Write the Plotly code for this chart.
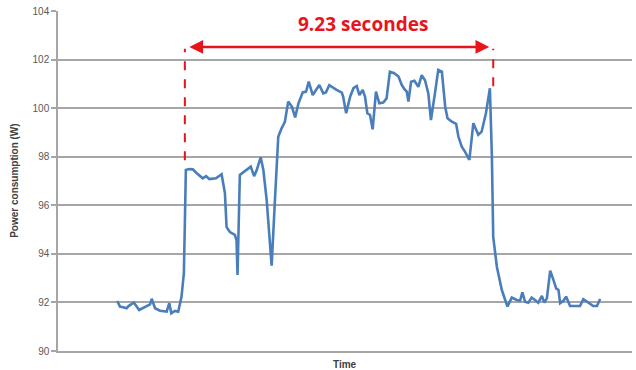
import plotly.graph_objects as go

# Time (s) and power consumption (W)
time_s = [0.01, 0.09, 0.19, 0.29, 0.35, 0.51, 0.67, 0.88, 1.00, 1.05, 1.15, 1.30, 1.50, 1.58, 1.64,
          1.75, 1.85, 1.95, 2.02, 2.05, 2.08, 2.18, 2.29, 2.41, 2.59, 2.69, 2.79, 2.99, 3.16, 3.26,
          3.31, 3.41, 3.56, 3.61, 3.64, 3.71, 3.90, 4.04, 4.14, 4.22, 4.34, 4.42, 4.52, 4.60, 4.67,
          4.77, 4.87, 4.97, 5.07, 5.17, 5.28, 5.38, 5.48, 5.61, 5.71, 5.79, 5.91, 6.01, 6.11, 6.23,
          6.31, 6.41, 6.53, 6.63, 6.79, 6.83, 6.92, 7.04, 7.14, 7.24, 7.32, 7.42, 7.49, 7.56, 7.64,
          7.72, 7.82, 7.92, 8.04, 8.14, 8.24, 8.37, 8.50, 8.60, 8.68, 8.75, 8.80, 8.88, 8.98, 9.10,
          9.20, 9.30, 9.40, 9.48, 9.60, 9.70, 9.81, 9.91, 9.98, 10.11, 10.24, 10.31, 10.41, 10.51,
          10.64, 10.76, 10.91, 11.01, 11.14, 11.26, 11.32, 11.36, 11.47, 11.62, 11.79, 11.92, 12.07,
          12.17, 12.24, 12.32, 12.42, 12.52, 12.62, 12.72, 12.83, 12.90, 12.98, 13.08, 13.18, 13.26,
          13.33, 13.38, 13.48, 13.56, 13.68, 13.88, 13.98, 14.08, 14.23, 14.38, 14.49, 14.59]

power_w = [92.06, 91.83, 91.80, 91.76, 91.85, 92.00, 91.69, 91.83, 91.92, 92.15, 91.76, 91.66, 91.62,
           91.97, 91.55, 91.65, 91.62, 92.24, 93.20, 95.26, 97.45, 97.49, 97.48, 97.32, 97.11, 97.20,
           97.08, 97.11, 97.28, 96.49, 95.10, 94.90, 94.78, 94.55, 93.13, 97.25, 97.45, 97.59, 97.20,
           97.45, 97.98, 97.45, 96.22, 94.57, 93.51, 96.22, 98.82, 99.17, 99.44, 100.27, 100.06, 99.62,
           100.20, 100.65, 100.68, 101.09, 100.54, 100.75, 100.95, 100.61, 100.65, 100.95, 100.84,
           100.75, 100.64, 100.47, 99.79, 100.47, 100.82, 100.91, 100.54, 100.75, 100.47, 99.79, 99.72,
           99.13, 100.68, 100.20, 100.23, 100.40, 101.50, 101.44, 101.30, 100.95, 100.78, 100.68,
           100.27, 101.09, 101.13, 100.88, 101.36, 101.15, 100.61, 99.51, 100.61, 101.57, 101.50,
           100.06, 99.58, 99.44, 99.35, 98.82, 98.41, 98.20, 97.87, 99.38, 98.90, 99.03, 99.79, 100.82,
           98.00, 94.70, 93.47, 92.51, 91.83, 92.20, 92.10, 92.07, 92.42, 92.03, 91.99, 92.20, 92.10,
           91.99, 92.27, 91.99, 92.17, 93.31, 92.92, 92.58, 92.51, 91.97, 92.07, 92.24, 91.85, 91.83,
           91.85, 92.13, 91.99, 91.85, 91.85, 92.14]

y_ticks = [90, 92, 94, 96, 98, 100, 102, 104]

# Duration marker
start_t = 2.05
end_t = 11.36
duration_label = "9.23 secondes"
x_title = "Time"
y_title = "Power consumption (W)"

RED = "#E8141B"
GRID = "#A6A6A6"

fig = go.Figure()
fig.add_trace(go.Scatter(
    x=time_s, y=power_w, mode="lines",
    line=dict(color="#4A7EBB", width=2.6),
    showlegend=False, hoverinfo="skip"
))

# dashed vertical markers
fig.add_shape(type="line", x0=start_t, x1=start_t, y0=97.85, y1=102.45,
              line=dict(color=RED, width=2, dash="dash"))
fig.add_shape(type="line", x0=end_t, x1=end_t, y0=100.9, y1=102.45,
              line=dict(color=RED, width=2, dash="dash"))

# double arrow
fig.add_annotation(x=11.24, y=102.52, ax=2.14, ay=102.52, xref="x", yref="y",
                   axref="x", ayref="y", text="", showarrow=True,
                   arrowhead=2, arrowside="end+start", arrowsize=1.1,
                   arrowwidth=2.5, arrowcolor=RED)
fig.add_annotation(x=(start_t + end_t) / 2 + 0.73, y=103.45, xref="x", yref="y",
                   text="<b>" + duration_label + "</b>", showarrow=False,
                   font=dict(family="Open Sans, Liberation Sans, sans-serif", size=19, color=RED))

# axis titles
fig.add_annotation(x=0.5, y=-0.041, xref="paper", yref="paper", text="<b>" + x_title + "</b>",
                   showarrow=False, xanchor="center", yanchor="middle",
                   font=dict(size=10, color="#404040"))
fig.add_annotation(x=-0.077, y=0.5, xref="paper", yref="paper", text="<b>" + y_title + "</b>",
                   showarrow=False, xanchor="center", yanchor="middle", textangle=-90,
                   font=dict(size=10, color="#404040"))

fig.update_layout(
    width=636, height=370,
    margin=dict(l=58, r=4, t=11, b=19, autoexpand=False),
    paper_bgcolor="white", plot_bgcolor="white",
    font=dict(family="Liberation Sans, Arial, sans-serif", color="#404040"),
)
fig.update_xaxes(
    range=[-1.78, 15.55], showgrid=False, zeroline=False, automargin=False,
    showticklabels=False, ticks="",
    showline=True, linecolor=GRID, linewidth=1.5,
)
fig.update_yaxes(
    range=[90, 104], tickvals=y_ticks, ticktext=[str(v) for v in y_ticks],
    showgrid=True, gridcolor=GRID, gridwidth=1.5, zeroline=False, automargin=False,
    showline=True, linecolor=GRID, linewidth=1.5,
    ticks="outside", ticklen=5, tickcolor=GRID, tickwidth=1.5,
    tickfont=dict(size=10, color="#595959"),
)

fig.write_html("out.html", config={"displayModeBar": False},
               post_script="document.body.style.margin='0px';document.body.style.overflow='hidden';")
